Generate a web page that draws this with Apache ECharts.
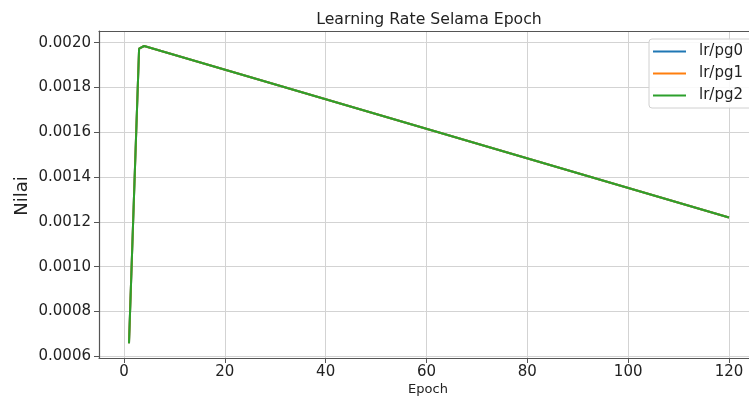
<!DOCTYPE html>
<html>
<head>
<meta charset="utf-8">
<script src="https://cdn.jsdelivr.net/npm/echarts@6/dist/echarts.min.js"></script>
<style>html,body{margin:0;padding:0;background:#fff;}#c{width:749px;height:397px;}</style>
</head>
<body>
<div id="c"></div>
<script>
// Data (vertices of the plotted line)
const epochs = [1, 2, 3, 4, 120];
const lrPg0 = [0.000658, 0.00132, 0.001973, 0.001985, 0.001219];
const lrPg1 = [0.000658, 0.00132, 0.001973, 0.001985, 0.001219];
const lrPg2 = [0.000658, 0.00132, 0.001973, 0.001985, 0.001219];
const xTicks = [0, 20, 40, 60, 80, 100, 120];
const yTicks = [0.0006, 0.0008, 0.0010, 0.0012, 0.0014, 0.0016, 0.0018, 0.0020];
const seriesNames = ['lr/pg0', 'lr/pg1', 'lr/pg2'];
const colors = ['#1f77b4', '#ff7f0e', '#2ca02c'];

const FONT = 'DejaVu Sans';
const chart = echarts.init(document.getElementById('c'), null, {renderer: 'canvas'});
const pair = (ys) => epochs.map((e, i) => [e, ys[i]]);
const spine = '#555';
const option = {
  animation: false,
  backgroundColor: '#fff',
  color: colors,
  grid: {left: 99, top: 31, right: -10, bottom: 39, show: false,
         containLabel: false, outerBoundsMode: 'none'},
  xAxis: [{
    type: 'value', min: -4.95, max: 125.95,
    axisLine: {show: true, onZero: false, lineStyle: {color: spine, width: 1.2}},
    axisTick: {show: true, inside: false, length: 5, customValues: xTicks, lineStyle: {color: spine}},
    axisLabel: {customValues: xTicks, margin: 7, fontFamily: FONT, fontSize: 15, color: '#222', hideOverlap: false},
    splitLine: {show: true, lineStyle: {color: '#d3d3d3', width: 1}}
  }, {
    type: 'value', position: 'top', min: -4.95, max: 125.95,
    axisLine: {show: true, onZero: false, lineStyle: {color: spine, width: 1.2}},
    axisTick: {show: false}, axisLabel: {show: false}, splitLine: {show: false}
  }],
  yAxis: {
    type: 'value', min: 0.000592, max: 0.002052,
    axisLine: {show: true, onZero: false, lineStyle: {color: spine, width: 1.2}},
    axisTick: {show: true, inside: false, length: 5, customValues: yTicks, lineStyle: {color: spine}},
    axisLabel: {customValues: yTicks, margin: 8, fontFamily: FONT, fontSize: 15, color: '#222', hideOverlap: false,
                formatter: v => v.toFixed(4)},
    splitLine: {show: true, lineStyle: {color: '#d3d3d3', width: 1}}
  },
  legend: {
    orient: 'vertical', left: 649, top: 39,
    padding: [5, 12, 5, 4], itemGap: 7, itemWidth: 33, itemHeight: 2, icon: 'rect',
    backgroundColor: 'rgba(255,255,255,0.85)', borderColor: '#d0d0d0', borderWidth: 1, borderRadius: 3,
    textStyle: {fontFamily: FONT, fontSize: 15, color: '#222', lineHeight: 15, padding: [0, 0, 0, 8]},
    data: seriesNames
  },
  graphic: [
    {type: 'text', x: 429, y: 20, style: {text: 'Learning Rate Selama Epoch', font: '15.7px "DejaVu Sans"', fill: '#222', textAlign: 'center', textVerticalAlign: 'middle'}},
    {type: 'text', x: 22, y: 196, rotation: Math.PI / 2, style: {text: 'Nilai', font: '18px "DejaVu Sans"', fill: '#222', textAlign: 'center', textVerticalAlign: 'middle'}},
    {type: 'text', x: 428, y: 390, style: {text: 'Epoch', font: '13px "DejaVu Sans"', fill: '#222', textAlign: 'center', textVerticalAlign: 'middle'}}
  ],
  series: [
    {name: seriesNames[0], type: 'line', data: pair(lrPg0), showSymbol: false, lineStyle: {width: 2}},
    {name: seriesNames[1], type: 'line', data: pair(lrPg1), showSymbol: false, lineStyle: {width: 2}},
    {name: seriesNames[2], type: 'line', data: pair(lrPg2), showSymbol: false, lineStyle: {width: 2}}
  ]
};
chart.setOption(option);
</script>
</body>
</html>
